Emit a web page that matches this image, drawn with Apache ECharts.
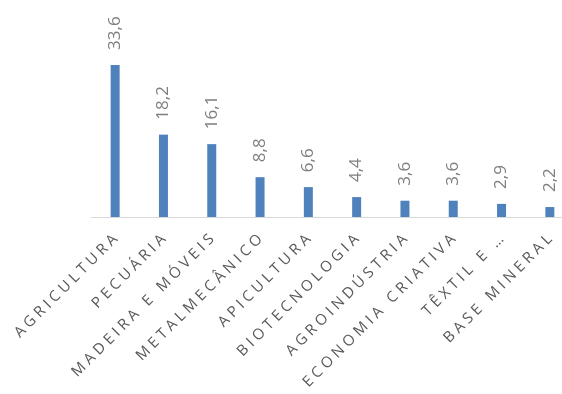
<!DOCTYPE html>
<html>
<head>
<meta charset="utf-8">
<script src="https://cdn.jsdelivr.net/npm/echarts@6/dist/echarts.min.js"></script>
<style>
	html, body { margin: 0; padding: 0; background: #fff; }
	#chart { width: 562px; height: 394px; }
</style>
</head>
<body>
<div id="chart"></div>
<script>
const categories = ["AGRICULTURA", "PECUÁRIA", "MADEIRA E MÓVEIS", "METALMECÂNICO", "APICULTURA",
	"BIOTECNOLOGIA", "AGROINDÚSTRIA", "ECONOMIA CRIATIVA", "TÊXTIL E …", "BASE MINERAL"];
const values = [33.6, 18.2, 16.1, 8.8, 6.6, 4.4, 3.6, 3.6, 2.9, 2.2];

// Excel-style wide letter spacing
function spaced(text) {
	return text.split(" ").map(function (w) {
		return w.split("").join(" ");
	}).join("   ");
}

const option = {
	animation: false,
	grid: {
		left: 91,
		right: -12,
		top: 36,
		bottom: 177,
		outerBoundsMode: "none",
	},
	xAxis: {
		type: "category",
		data: categories,
		axisTick: { show: false },
		axisLine: { lineStyle: { color: "#d9d9d9", width: 1 } },
		axisLabel: {
			interval: 0,
			rotate: 45,
			margin: 20,
			hideOverlap: false,
			color: "#595959",
			fontFamily: "Open Sans",
			fontSize: 15,
			formatter: function (v) { return spaced(v); },
		},
	},
	yAxis: {
		type: "value",
		min: 0,
		max: 40,
		show: false,
	},
	series: [
		{
			type: "bar",
			data: values,
			barWidth: 9,
			itemStyle: { color: "#4f81bd" },
			label: {
				show: true,
				position: "top",
				rotate: 90,
				align: "left",
				verticalAlign: "middle",
				distance: 15,
				color: "#7f7f7f",
				fontFamily: "Open Sans",
				fontSize: 17,
				formatter: function (p) { return p.value.toFixed(1).replace(".", ","); },
			},
		},
	],
};
const chart = echarts.init(document.getElementById("chart"));
chart.setOption(option);
</script>
</body>
</html>
